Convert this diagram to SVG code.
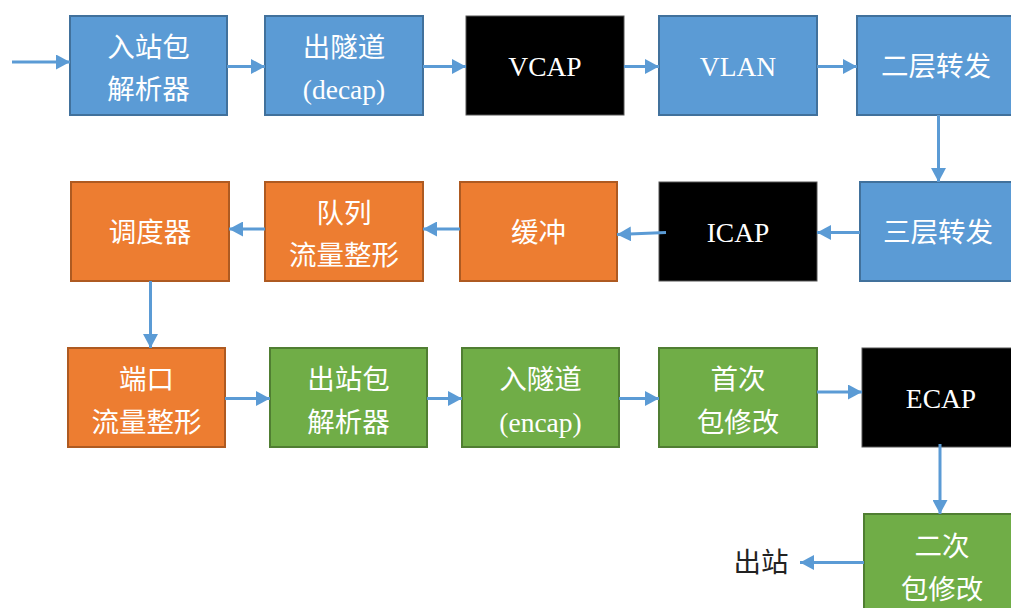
<svg xmlns="http://www.w3.org/2000/svg" width="1011" height="608" viewBox="0 0 1011 608">
<style>
.b{fill:#5B9BD5;stroke:#41719C;stroke-width:2}
.o{fill:#ED7D31;stroke:#AE5A21;stroke-width:2}
.g{fill:#70AD47;stroke:#507E32;stroke-width:2}
.k{fill:#000;stroke:#555;stroke-width:1}
.t{font-family:"Liberation Serif","Noto Sans CJK SC",serif;font-size:27.5px;fill:#fff;text-anchor:middle;dominant-baseline:central}
.e{stroke:#5B9BD5;stroke-width:3;fill:none;marker-end:url(#ah)}
</style>
<defs>
<marker id="ah" markerUnits="userSpaceOnUse" viewBox="0 0 14 15" refX="14" refY="7.5" markerWidth="14" markerHeight="15" orient="auto">
<path d="M0,0 L14,7.5 L0,15 z" fill="#5B9BD5"/>
</marker>
</defs>
<rect width="1011" height="608" fill="#fff"/>
<g id="n1"><rect class="b" x="70" y="16" width="157" height="99"/><text class="t" x="148.5" y="47">入站包</text><text class="t" x="148.5" y="89">解析器</text></g>
<g id="n2"><rect class="b" x="265" y="16" width="158" height="99"/><text class="t" x="344" y="47">出隧道</text><text class="t" x="344" y="89">(decap)</text></g>
<g id="n3"><rect class="k" x="466" y="16" width="158" height="99"/><text class="t" x="545" y="66.5">VCAP</text></g>
<g id="n4"><rect class="b" x="659" y="16" width="158" height="99"/><text class="t" x="738" y="66.5">VLAN</text></g>
<g id="n5"><rect class="b" x="857" y="16" width="160" height="99"/><text class="t" x="936" y="66.5">二层转发</text></g>
<g id="n6"><rect class="b" x="860" y="182" width="160" height="99"/><text class="t" x="938" y="232">三层转发</text></g>
<g id="n7"><rect class="k" x="659" y="182" width="158" height="99"/><text class="t" x="738" y="232">ICAP</text></g>
<g id="n8"><rect class="o" x="460" y="182" width="157" height="99"/><text class="t" x="538.5" y="232">缓冲</text></g>
<g id="n9"><rect class="o" x="265" y="182" width="158" height="99"/><text class="t" x="344" y="213">队列</text><text class="t" x="344" y="255.5">流量整形</text></g>
<g id="n10"><rect class="o" x="71" y="182" width="158" height="99"/><text class="t" x="150" y="232">调度器</text></g>
<g id="n11"><rect class="o" x="68" y="348" width="157" height="99"/><text class="t" x="146.5" y="379">端口</text><text class="t" x="146.5" y="422">流量整形</text></g>
<g id="n12"><rect class="g" x="270" y="348" width="157" height="99"/><text class="t" x="348.5" y="379">出站包</text><text class="t" x="348.5" y="422">解析器</text></g>
<g id="n13"><rect class="g" x="462" y="348" width="157" height="99"/><text class="t" x="540.5" y="379">入隧道</text><text class="t" x="540.5" y="422">(encap)</text></g>
<g id="n14"><rect class="g" x="659" y="348" width="158" height="99"/><text class="t" x="738" y="379">首次</text><text class="t" x="738" y="422">包修改</text></g>
<g id="n15"><rect class="k" x="862" y="348" width="160" height="99"/><text class="t" x="941" y="398">ECAP</text></g>
<g id="n16"><rect class="g" x="864" y="514" width="160" height="100"/><text class="t" x="942" y="546">二次</text><text class="t" x="942" y="589">包修改</text></g>
<g id="n17"><text class="t" x="761" y="562" style="fill:#222">出站</text></g>
<g id="connectors">
<line class="e" x1="12" y1="62" x2="70" y2="62"/>
<line class="e" x1="227" y1="66.5" x2="265" y2="66.5"/>
<line class="e" x1="423" y1="66.5" x2="466" y2="66.5"/>
<line class="e" x1="624" y1="66.5" x2="659" y2="66.5"/>
<line class="e" x1="817" y1="66.5" x2="857" y2="66.5"/>
<line class="e" x1="938.5" y1="115" x2="938.5" y2="182"/>
<line class="e" x1="860" y1="232.5" x2="817" y2="232.5"/>
<line class="e" x1="666" y1="232.5" x2="617" y2="234.5"/>
<line class="e" x1="460" y1="229" x2="423" y2="229"/>
<line class="e" x1="265" y1="229" x2="229" y2="229"/>
<line class="e" x1="150.5" y1="281" x2="150.5" y2="348"/>
<line class="e" x1="225" y1="398.5" x2="270" y2="398.5"/>
<line class="e" x1="427" y1="398.5" x2="462" y2="398.5"/>
<line class="e" x1="619" y1="398.5" x2="659" y2="398.5"/>
<line class="e" x1="817" y1="392" x2="862" y2="392"/>
<line class="e" x1="940" y1="444" x2="940" y2="514"/>
<line class="e" x1="864" y1="562.5" x2="800" y2="562.5"/>
</g>
</svg>
